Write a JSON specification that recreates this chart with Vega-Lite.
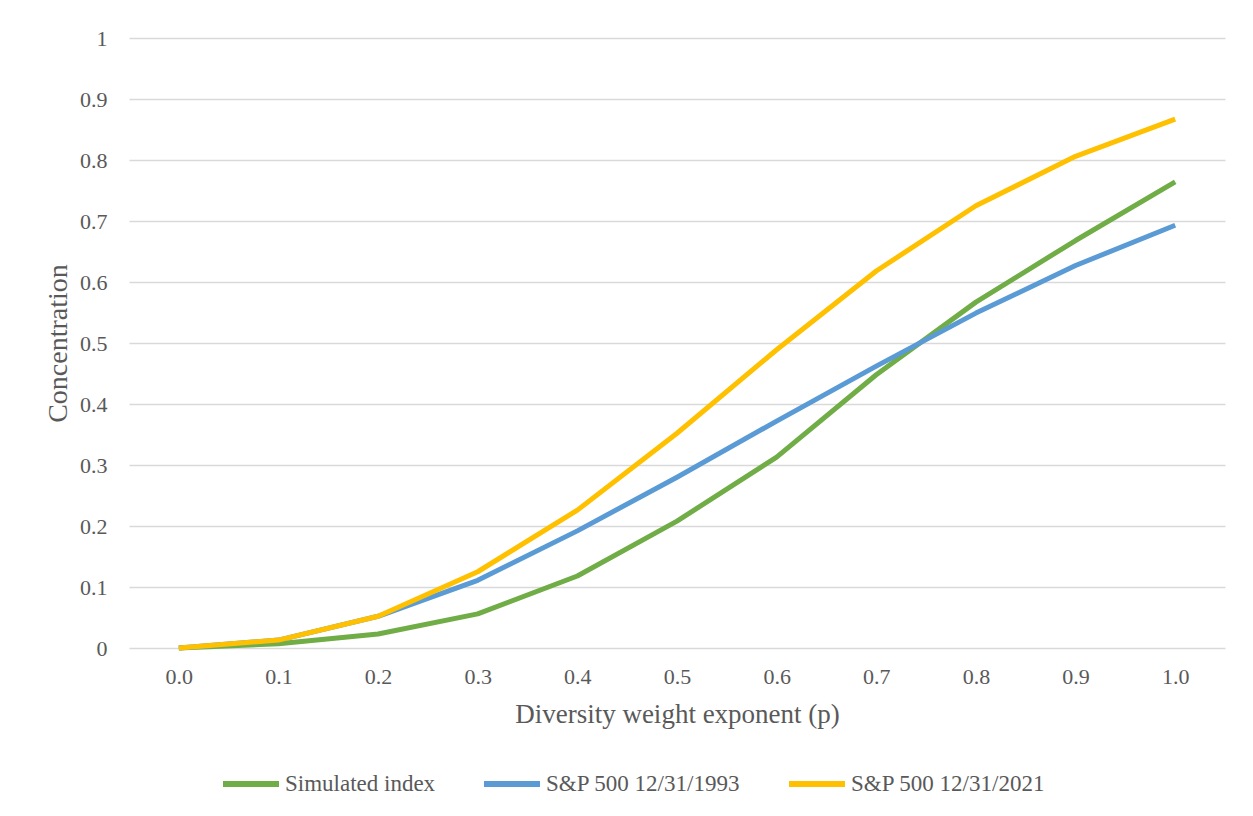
{
  "$schema": "https://vega.github.io/schema/vega-lite/v6.json",
  "width": 1096,
  "height": 610,
  "autosize": {"type": "none"},
  "padding": {"left": 129, "top": 38, "right": 28, "bottom": 168},
  "background": "white",
  "config": {
    "font": "Liberation Serif",
    "view": {"stroke": null}
  },
  "data": {
    "values": [
      {"p": "0.0", "series": "Simulated index", "v": 0.0},
      {"p": "0.1", "series": "Simulated index", "v": 0.007},
      {"p": "0.2", "series": "Simulated index", "v": 0.023},
      {"p": "0.3", "series": "Simulated index", "v": 0.056},
      {"p": "0.4", "series": "Simulated index", "v": 0.118},
      {"p": "0.5", "series": "Simulated index", "v": 0.208},
      {"p": "0.6", "series": "Simulated index", "v": 0.313},
      {"p": "0.7", "series": "Simulated index", "v": 0.448},
      {"p": "0.8", "series": "Simulated index", "v": 0.567},
      {"p": "0.9", "series": "Simulated index", "v": 0.668},
      {"p": "1.0", "series": "Simulated index", "v": 0.764},
      {"p": "0.0", "series": "S&P 500 12/31/1993", "v": 0.0},
      {"p": "0.1", "series": "S&P 500 12/31/1993", "v": 0.013},
      {"p": "0.2", "series": "S&P 500 12/31/1993", "v": 0.052},
      {"p": "0.3", "series": "S&P 500 12/31/1993", "v": 0.111},
      {"p": "0.4", "series": "S&P 500 12/31/1993", "v": 0.192},
      {"p": "0.5", "series": "S&P 500 12/31/1993", "v": 0.280},
      {"p": "0.6", "series": "S&P 500 12/31/1993", "v": 0.372},
      {"p": "0.7", "series": "S&P 500 12/31/1993", "v": 0.462},
      {"p": "0.8", "series": "S&P 500 12/31/1993", "v": 0.549},
      {"p": "0.9", "series": "S&P 500 12/31/1993", "v": 0.627},
      {"p": "1.0", "series": "S&P 500 12/31/1993", "v": 0.693},
      {"p": "0.0", "series": "S&P 500 12/31/2021", "v": 0.0},
      {"p": "0.1", "series": "S&P 500 12/31/2021", "v": 0.013},
      {"p": "0.2", "series": "S&P 500 12/31/2021", "v": 0.052},
      {"p": "0.3", "series": "S&P 500 12/31/2021", "v": 0.125},
      {"p": "0.4", "series": "S&P 500 12/31/2021", "v": 0.226},
      {"p": "0.5", "series": "S&P 500 12/31/2021", "v": 0.352},
      {"p": "0.6", "series": "S&P 500 12/31/2021", "v": 0.489},
      {"p": "0.7", "series": "S&P 500 12/31/2021", "v": 0.618},
      {"p": "0.8", "series": "S&P 500 12/31/2021", "v": 0.725},
      {"p": "0.9", "series": "S&P 500 12/31/2021", "v": 0.806},
      {"p": "1.0", "series": "S&P 500 12/31/2021", "v": 0.867}
    ]
  },
  "mark": {"type": "line", "strokeWidth": 5, "strokeJoin": "round", "strokeCap": "butt"},
  "encoding": {
    "x": {
      "field": "p",
      "type": "ordinal",
      "sort": null,
      "scale": {"type": "point", "padding": 0.5},
      "axis": {
        "title": "Diversity weight exponent (p)",
        "titleFont": "Liberation Serif",
        "titleFontSize": 27,
        "titleFontWeight": "normal",
        "titleColor": "#595959",
        "titlePadding": 14,
        "labelFont": "Liberation Serif",
        "labelFontSize": 22,
        "labelColor": "#595959",
        "labelPadding": 18,
        "labelAngle": 0,
        "ticks": false,
        "domain": false,
        "grid": false
      }
    },
    "y": {
      "field": "v",
      "type": "quantitative",
      "scale": {"domain": [0, 1], "nice": false},
      "axis": {
        "title": "Concentration",
        "values": [0, 0.1, 0.2, 0.3, 0.4, 0.5, 0.6, 0.7, 0.8, 0.9, 1],
        "format": ".1~f",
        "titleFont": "Liberation Serif",
        "titleFontSize": 28,
        "titleFontWeight": "normal",
        "titleColor": "#595959",
        "titlePadding": 7,
        "labelFont": "Liberation Serif",
        "labelFontSize": 22,
        "labelColor": "#595959",
        "labelPadding": 22,
        "ticks": false,
        "domain": false,
        "grid": true,
        "gridColor": "#d9d9d9",
        "gridWidth": 1.5
      }
    },
    "color": {
      "field": "series",
      "type": "nominal",
      "sort": ["Simulated index", "S&P 500 12/31/1993", "S&P 500 12/31/2021"],
      "scale": {
        "domain": ["Simulated index", "S&P 500 12/31/1993", "S&P 500 12/31/2021"],
        "range": ["#70ad47", "#5b9bd5", "#ffc000"]
      },
      "legend": {
        "orient": "none",
        "legendX": 91,
        "legendY": 715,
        "direction": "horizontal",
        "title": null,
        "symbolType": "stroke",
        "symbolStrokeWidth": 6,
        "symbolSize": 3136,
        "labelFont": "Liberation Serif",
        "labelFontSize": 23,
        "labelColor": "#595959",
        "labelOffset": 3,
        "columnPadding": 36,
        "labelLimit": 400
      }
    }
  }
}
